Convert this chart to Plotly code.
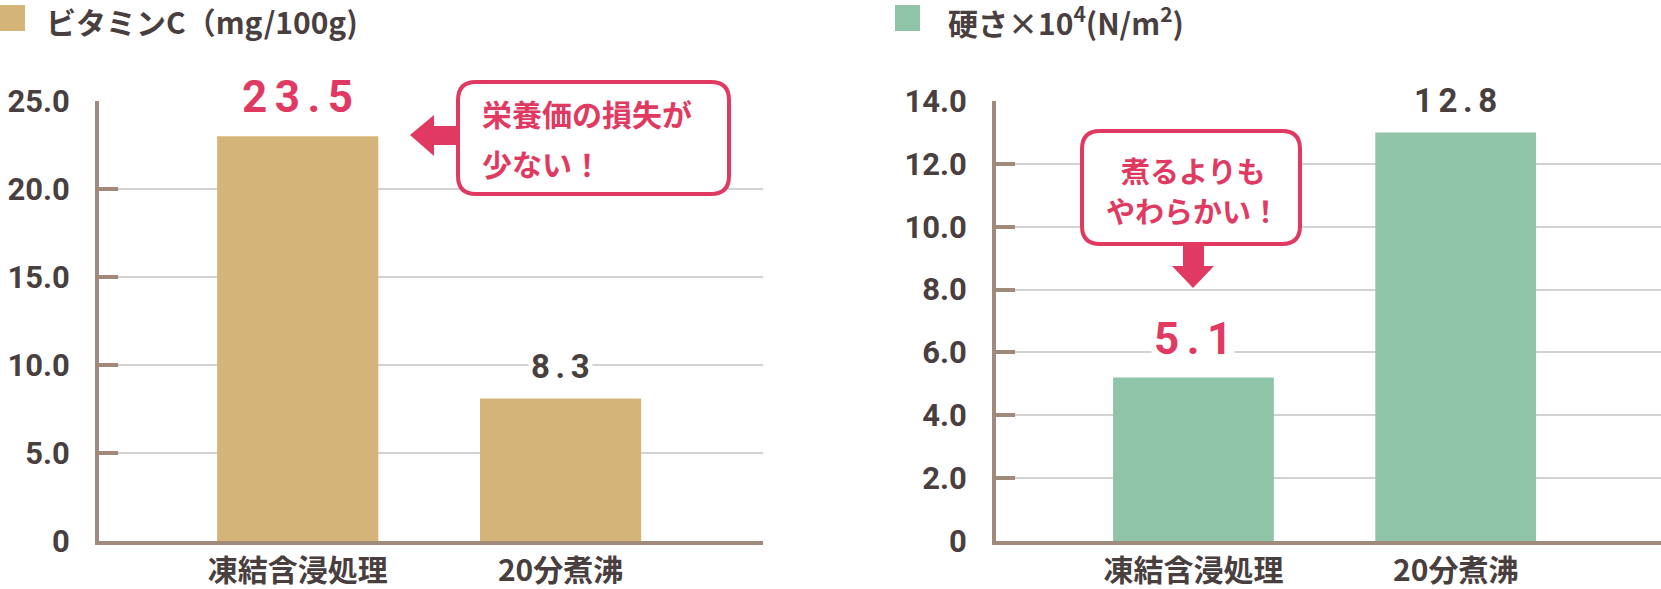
import plotly.graph_objects as go

W, H = 1661, 589

categories = ["凍結含浸処理", "20分煮沸"]

# bar heights as drawn, and the numbers printed above them
vitamin_c = [23.0, 8.1]
vitamin_c_labels = ["23.5", "8.3"]
hardness = [5.2, 13.0]
hardness_labels = ["5.1", "12.8"]

vc_tickvals = [0, 5, 10, 15, 20, 25]
vc_ticktext = ["0", "5.0", "10.0", "15.0", "20.0", "25.0"]
hd_tickvals = [0, 2, 4, 6, 8, 10, 12, 14]
hd_ticktext = ["0", "2.0", "4.0", "6.0", "8.0", "10.0", "12.0", "14.0"]

vc_title = "ビタミンC（mg/100g)"
hd_title = "硬さ×10<sup>4</sup>(N/m<sup>2</sup>)"
vc_note = ["栄養価の損失が", "少ない！"]
hd_note = ["煮るよりも", "やわらかい！"]

TAN = "#d4b478"
GREEN = "#8fc4a8"
PINK = "#e03a62"
INK = "#4a3f3f"
BROWN = "#a08a7c"
GRID = "#d2d2d2"

NUM = "Roboto, Noto Sans CJK JP, sans-serif"
JP = "Noto Sans CJK JP, sans-serif"


def px(x):
    return x / W


def py(y):
    return 1 - y / H


def spaced(s):
    return "\u2006".join(s)


def rounded_box(x0, y0, x1, y1, r):
    rx, ry = r / W, r / H
    L, R = px(x0), px(x1)
    T, B = py(y0), py(y1)
    return (f"M {L+rx},{T} L {R-rx},{T} Q {R},{T} {R},{T-ry} "
            f"L {R},{B+ry} Q {R},{B} {R-rx},{B} L {L+rx},{B} "
            f"Q {L},{B} {L},{B+ry} L {L},{T-ry} Q {L},{T} {L+rx},{T} Z")


def polygon(points):
    p = " L ".join(f"{px(x)},{py(y)}" for x, y in points)
    return f"M {p} Z"


fig = go.Figure()
fig.add_trace(go.Bar(x=categories, y=vitamin_c, marker=dict(color=TAN, line_width=0),
                     width=0.613, xaxis="x", yaxis="y", hoverinfo="skip"))
fig.add_trace(go.Bar(x=categories, y=hardness, marker=dict(color=GREEN, line_width=0),
                     width=0.613, xaxis="x2", yaxis="y2", hoverinfo="skip"))

ydom = [py(541), py(101)]
yaxis_common = dict(domain=ydom, showline=True, linecolor=BROWN, linewidth=4,
                    ticks="inside", ticklen=19, tickwidth=4, tickcolor=BROWN,
                    showgrid=True, gridcolor=GRID, gridwidth=1.5, zeroline=False,
                    tickfont=dict(family=NUM, size=31, color=INK, weight=700),
                    ticklabelstandoff=19, automargin=False, fixedrange=True)
xaxis_common = dict(showline=True, linecolor=BROWN, linewidth=4, ticks="",
                    showgrid=False, zeroline=False,
                    tickfont=dict(family=JP, size=30, color=INK, weight=700),
                    ticklabelstandoff=0, automargin=False, fixedrange=True)

fig.update_layout(
    width=W, height=H,
    margin=dict(l=0, r=0, t=0, b=0),
    paper_bgcolor="white", plot_bgcolor="white",
    showlegend=False,
    xaxis=dict(domain=[px(99), px(763)], range=[-0.756, 1.770], anchor="y", **xaxis_common),
    yaxis=dict(range=[0, 25], tickvals=vc_tickvals, ticktext=vc_ticktext, anchor="x", **yaxis_common),
    xaxis2=dict(domain=[px(996), 1.0], range=[-0.753, 1.783], anchor="y2", **xaxis_common),
    yaxis2=dict(range=[0, 14], tickvals=hd_tickvals, ticktext=hd_ticktext, anchor="x2", **yaxis_common),
)

shapes = []
annotations = []

# series headers
for (x0, x1), color, text, tx in [((0, 25), TAN, vc_title, 44), ((895, 920), GREEN, hd_title, 946)]:
    shapes.append(dict(type="rect", xref="paper", yref="paper",
                       x0=px(x0), x1=px(x1), y0=py(31), y1=py(5),
                       fillcolor=color, line_width=0))
    annotations.append(dict(xref="paper", yref="paper", x=px(tx), y=py(21),
                            xanchor="left", yanchor="middle", showarrow=False, text=text,
                            font=dict(family=JP, size=30, color=INK, weight=700)))

# value labels above the bars
for xa, ya, vals, labels, colors in [
        ("x", "y", vitamin_c, vitamin_c_labels, [PINK, INK]),
        ("x2", "y2", hardness, hardness_labels, [PINK, INK])]:
    for cat, v, lab, c in zip(categories, vals, labels, colors):
        big = c == PINK
        annotations.append(dict(xref=xa, yref=ya, x=cat, y=v, yanchor="middle",
                                yshift=39 if big else 32, showarrow=False,
                                text=spaced(lab), bgcolor="white", borderpad=2,
                                font=dict(family=NUM, size=44 if big else 33, color=c, weight=700)))

# callout: vitamin C
shapes.append(dict(type="path", xref="paper", yref="paper",
                   path=rounded_box(458, 82, 729, 194, 18),
                   fillcolor="white", line=dict(color=PINK, width=4)))
shapes.append(dict(type="path", xref="paper", yref="paper",
                   path=polygon([(410, 135), (434, 115), (434, 126), (458, 126),
                                 (458, 145), (434, 145), (434, 156)]),
                   fillcolor=PINK, line_width=0))
for i, line in enumerate(vc_note):
    annotations.append(dict(xref="paper", yref="paper", x=px(480), y=py(113 + 50 * i),
                            xanchor="left", yanchor="middle", showarrow=False, text=line,
                            font=dict(family=JP, size=30, color=PINK, weight=700)))

# callout: hardness
shapes.append(dict(type="path", xref="paper", yref="paper",
                   path=rounded_box(1082, 131, 1300, 244, 18),
                   fillcolor="white", line=dict(color=PINK, width=4)))
shapes.append(dict(type="path", xref="paper", yref="paper",
                   path=polygon([(1183, 244), (1204, 244), (1204, 266), (1214, 266),
                                 (1193, 288), (1172, 266), (1183, 266)]),
                   fillcolor=PINK, line_width=0))
for i, line in enumerate(hd_note):
    annotations.append(dict(xref="paper", yref="paper", x=px(1193), y=py(170 + 40 * i),
                            xanchor="center", yanchor="middle", showarrow=False, text=line,
                            font=dict(family=JP, size=29, color=PINK, weight=700)))

fig.update_layout(shapes=shapes, annotations=annotations)

# the page body has an 8px default margin; drop it so the figure fills the window
fig.write_html("out.html", config={"displayModeBar": False},
               post_script="document.body.style.margin = '0px';")
